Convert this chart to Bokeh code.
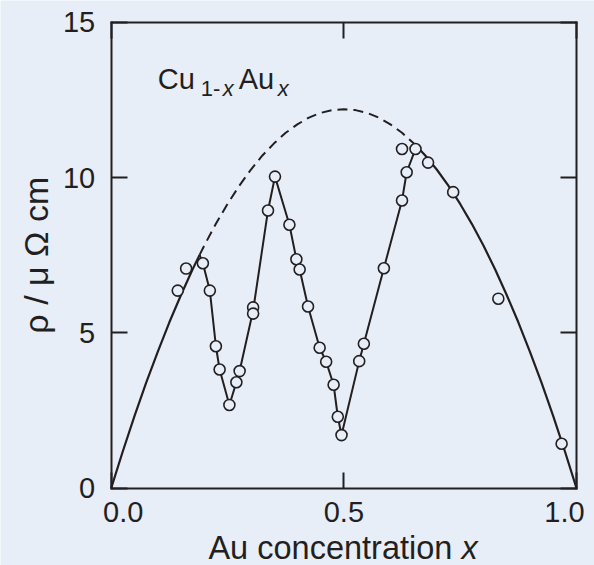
import math
from bokeh.plotting import figure
from bokeh.models import Range1d, LinearAxis, FixedTicker
from bokeh.core.properties import value
from bokeh.embed import file_html
from bokeh.resources import INLINE

# ---- data ----
x_ticks = [0.0, 0.5, 1.0]
x_tick_labels = ["0.0", "0.5", "1.0"]
y_ticks = [0, 5, 10, 15]

# measured resistivity points (open circles)
pts_x = [0.143, 0.161, 0.197, 0.212, 0.225, 0.233, 0.254, 0.269, 0.276, 0.305, 0.305,
         0.337, 0.352, 0.383, 0.398, 0.405, 0.423, 0.448, 0.462, 0.478, 0.487, 0.495,
         0.533, 0.543, 0.586, 0.625, 0.635, 0.625, 0.654, 0.681, 0.735, 0.832, 0.968]
pts_y = [6.36, 7.07, 7.24, 6.36, 4.57, 3.82, 2.68, 3.41, 3.77, 5.82, 5.62,
         8.94, 10.03, 8.48, 7.37, 7.04, 5.85, 4.52, 4.07, 3.33, 2.30, 1.71,
         4.09, 4.65, 7.08, 9.26, 10.17, 10.92, 10.92, 10.48, 9.53, 6.10, 1.43]

# jagged trend line (ordered alloy region)
line_x = [0.19, 0.197, 0.212, 0.225, 0.233, 0.254, 0.269, 0.276, 0.305, 0.337, 0.352,
          0.383, 0.398, 0.405, 0.423, 0.448, 0.462, 0.478, 0.487, 0.495, 0.533, 0.543,
          0.586, 0.625, 0.635, 0.654, 0.66]
line_y = [7.51, 7.24, 6.36, 4.57, 3.82, 2.68, 3.41, 3.77, 5.72, 8.94, 10.03,
          8.48, 7.37, 7.04, 5.85, 4.52, 4.07, 3.33, 2.30, 1.71, 4.09, 4.65,
          7.08, 9.26, 10.17, 10.92, 10.95]

# disordered-alloy envelope
envL_x = [0.0, 0.025, 0.05, 0.075, 0.1, 0.125, 0.15, 0.175, 0.19]
envL_y = [0.0, 1.19, 2.32, 3.39, 4.39, 5.34, 6.22, 7.05, 7.51]
envM_x = [0.19, 0.2, 0.225, 0.25, 0.275, 0.3, 0.325, 0.35, 0.375, 0.4, 0.425, 0.45,
          0.475, 0.5, 0.525, 0.55, 0.575, 0.6, 0.625, 0.65, 0.66]
envM_y = [7.51, 7.81, 8.51, 9.15, 9.73, 10.25, 10.71, 11.10, 11.44, 11.71, 11.93, 12.08,
          12.17, 12.20, 12.17, 12.08, 11.93, 11.71, 11.44, 11.10, 10.95]
envR_x = [0.66, 0.675, 0.7, 0.725, 0.75, 0.775, 0.8, 0.825, 0.85, 0.875, 0.9, 0.925,
          0.95, 0.975, 1.0]
envR_y = [10.95, 10.71, 10.25, 9.73, 9.15, 8.51, 7.81, 7.05, 6.22, 5.34, 4.39, 3.39,
          2.32, 1.19, 0.0]

X0, X1 = 0.0, 1.0
Y0, Y1 = 0.0, 15.0

BG = "#e8eef8"
INK = "#231f20"
FONT = "Liberation Sans"

# ---- layout (pixels): the plot box inside a 594 x 565 canvas ----
W, H = 594, 565
BOX_L, BOX_R, BOX_T, BOX_B = 110.7, 576.0, 21.7, 487.7
sx = (BOX_R - BOX_L) / (X1 - X0)
sy = (BOX_B - BOX_T) / (Y1 - Y0)
# the frame fills the canvas, so texts around the box are not clipped
x_range = Range1d(X0 - BOX_L / sx, X1 + (W - BOX_R) / sx)
y_range = Range1d(Y0 - (H - BOX_B) / sy, Y1 + BOX_T / sy)

p = figure(width=W, height=H, x_range=x_range, y_range=y_range,
           output_backend="svg", toolbar_location=None,
           x_axis_type=None, y_axis_type=None, min_border=0,
           background_fill_color=BG, border_fill_color=BG)
p.title.visible = False
p.grid.visible = False
p.outline_line_color = None


def box_axis(side, loc, ticks, bounds, labels):
    ax = LinearAxis(fixed_location=loc, bounds=bounds, ticker=FixedTicker(ticks=ticks))
    ax.major_tick_in = 16
    ax.major_tick_out = 0
    ax.minor_tick_line_color = None
    ax.axis_line_color = INK
    ax.axis_line_width = 2
    ax.axis_line_cap = "square"
    ax.major_tick_line_color = INK
    ax.major_tick_line_width = 2
    if labels:
        ax.major_label_text_font = FONT
        ax.major_label_text_font_size = "29px"
        ax.major_label_text_color = INK
        ax.major_label_standoff = 16
    else:
        ax.major_label_text_font_size = "1px"
        ax.major_label_text_color = None
        ax.major_label_standoff = 0
    p.add_layout(ax, side)
    return ax


box_axis("below", Y0, x_ticks, (X0, X1), False)
box_axis("above", Y1, x_ticks, (X0, X1), False)
box_axis("left", X0, y_ticks, (Y0, Y1), True)
box_axis("right", X1, y_ticks, (Y0, Y1), False)

# envelope
p.line(envL_x, envL_y, line_color=INK, line_width=2.2)
p.line(envM_x, envM_y, line_color=INK, line_width=2.0, line_dash="10 6")
p.line(envR_x, envR_y, line_color=INK, line_width=2.2)
# trend line
p.line(line_x, line_y, line_color=INK, line_width=2.0)
# points
p.scatter(pts_x, pts_y, marker="circle", size=11, fill_color=BG, line_color=INK, line_width=1.6)

# x tick labels (end labels pulled inward as in the reference)
x_label_shift = [12, 0, -12]
p.text(x=x_ticks, y=[Y0] * len(x_ticks), text=x_tick_labels, x_offset=x_label_shift,
       y_offset=24, text_align="center", text_baseline="alphabetic",
       text_font=value(FONT), text_font_size="29px", text_color=INK)

# x axis title: "Au concentration x" (x in italics)
p.text(x=[0.209], y=[Y0], y_offset=60, text=["Au concentration"], text_align="left",
       text_baseline="alphabetic", text_font=value(FONT), text_font_size="32.5px",
       text_color=INK)
p.text(x=[0.209], y=[Y0], x_offset=253, y_offset=60, text=["x"], text_align="left",
       text_baseline="alphabetic", text_font=value(FONT), text_font_size="32.5px",
       text_font_style="italic", text_color=INK)

# y axis title, rotated
p.text(x=[X0], y=[(Y0 + Y1) / 2], x_offset=-75, y_offset=0, text=["ρ / μ Ω cm"],
       angle=math.pi / 2, text_align="center", text_baseline="alphabetic",
       text_font=value(FONT), text_font_size="34px", text_color=INK)

# Cu1-xAux annotation
ax0, ay0 = 0.1, 12.865
parts = [("Cu", 0, -10, "29px", "normal"),
         ("1-", 43, 0, "22px", "normal"),
         ("x", 65, 0, "22px", "italic"),
         ("Au", 81, -10, "29px", "normal"),
         ("x", 120, 0, "22px", "italic")]
for txt, dx, dy, fs, st in parts:
    p.text(x=[ax0], y=[ay0], x_offset=dx, y_offset=dy, text=[txt], text_align="left",
           text_baseline="alphabetic", text_font=value(FONT), text_font_size=fs,
           text_font_style=st, text_color=INK)

open("out.html", "w").write(file_html(p, INLINE))
